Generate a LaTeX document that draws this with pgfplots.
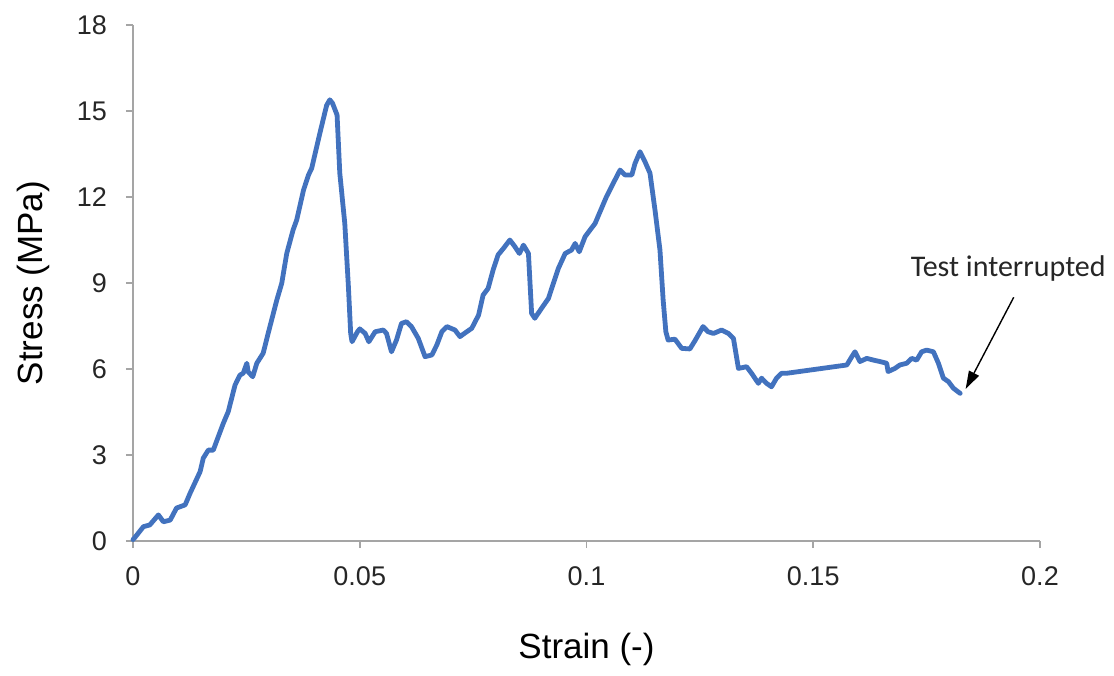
\documentclass[border=0pt]{standalone}
\usepackage{pgfplots}
\pgfplotsset{compat=1.18}
\usepackage{fontspec}
\setmainfont{Liberation Sans}
\newfontfamily\calibri{Carlito}
\usetikzlibrary{arrows.meta}
\definecolor{curve}{RGB}{66,114,190}
\definecolor{axgray}{RGB}{165,165,165}
\pgfplotstableread{
x y
0.0000 0.05
0.0004 0.12
0.0023 0.50
0.0037 0.56
0.0056 0.91
0.0067 0.67
0.0082 0.73
0.0096 1.15
0.0115 1.26
0.0126 1.67
0.0148 2.42
0.0155 2.89
0.0166 3.17
0.0177 3.17
0.0199 4.10
0.0210 4.51
0.0225 5.44
0.0236 5.79
0.0243 5.85
0.0251 6.20
0.0254 5.90
0.0264 5.73
0.0273 6.20
0.0287 6.55
0.0298 7.24
0.0317 8.40
0.0328 8.99
0.0339 10.03
0.0353 10.85
0.0361 11.20
0.0376 12.24
0.0387 12.77
0.0394 13.00
0.0412 14.22
0.0427 15.20
0.0434 15.39
0.0440 15.27
0.0450 14.86
0.0456 12.83
0.0467 11.08
0.0475 8.87
0.0480 7.24
0.0483 6.95
0.0495 7.30
0.0500 7.40
0.0512 7.24
0.0520 6.95
0.0534 7.30
0.0552 7.36
0.0559 7.24
0.0570 6.60
0.0581 7.01
0.0592 7.59
0.0603 7.65
0.0614 7.48
0.0629 7.07
0.0644 6.43
0.0659 6.49
0.0670 6.84
0.0681 7.30
0.0692 7.48
0.0710 7.36
0.0721 7.13
0.0736 7.30
0.0747 7.42
0.0762 7.88
0.0772 8.58
0.0783 8.81
0.0794 9.45
0.0805 9.98
0.0817 10.21
0.0831 10.50
0.0842 10.27
0.0852 10.03
0.0861 10.32
0.0872 10.03
0.0879 7.94
0.0886 7.77
0.0901 8.12
0.0916 8.46
0.0927 8.99
0.0938 9.51
0.0953 10.03
0.0967 10.15
0.0975 10.38
0.0984 10.09
0.0997 10.62
0.1008 10.85
0.1019 11.08
0.1030 11.49
0.1044 12.01
0.1059 12.48
0.1074 12.94
0.1085 12.77
0.1100 12.77
0.1107 13.17
0.1118 13.58
0.1129 13.23
0.1140 12.83
0.1151 11.55
0.1162 10.15
0.1169 8.41
0.1175 7.30
0.1180 7.01
0.1195 7.04
0.1210 6.72
0.1228 6.70
0.1240 7.01
0.1257 7.48
0.1268 7.30
0.1280 7.24
0.1298 7.36
0.1313 7.24
0.1324 7.07
0.1335 6.02
0.1353 6.08
0.1364 5.85
0.1379 5.50
0.1386 5.68
0.1397 5.50
0.1408 5.38
0.1419 5.68
0.1430 5.85
0.1441 5.85
0.1574 6.14
0.1585 6.43
0.1592 6.60
0.1603 6.26
0.1618 6.37
0.1633 6.31
0.1647 6.26
0.1662 6.20
0.1665 5.91
0.1680 6.02
0.1691 6.14
0.1706 6.20
0.1717 6.37
0.1728 6.31
0.1739 6.60
0.1750 6.66
0.1765 6.60
0.1776 6.20
0.1787 5.68
0.1798 5.56
0.1809 5.33
0.1824 5.15
}\stressdata
\begin{document}
\begin{tikzpicture}
\begin{axis}[
  at={(0pt,0pt)}, anchor=south west,
  scale only axis,
  width=453.5pt, height=258pt,
  xmin=0, xmax=0.2, ymin=0, ymax=18,
  axis lines=left,
  axis line style={-, draw=axgray, line width=0.8pt},
  xtick={0,0.05,0.1,0.15,0.2},
  xticklabels={0,0.05,0.1,0.15,0.2},
  ytick={0,3,6,9,12,15,18},
  yticklabels={0,3,6,9,12,15,18},
  tick align=outside,
  major tick length=3.5pt,
  tick style={draw=axgray, line width=0.8pt},
  xticklabel style={font=\fontsize{13.5}{14}\selectfont, text=black!85, yshift=-6pt},
  yticklabel style={font=\fontsize{13.5}{14}\selectfont, text=black!85, xshift=-6pt},
  xlabel={Strain (-)},
  ylabel={Stress (MPa)},
  xlabel style={font=\fontsize{17.5}{18}\selectfont, at={(axis description cs:0.5,-0.211)}, anchor=center},
  ylabel style={font=\fontsize{17.5}{18}\selectfont, at={(axis description cs:-0.110,0.5)}, anchor=center, rotate=0},
  clip=false,
]
\addplot[color=curve, line width=2.4pt, line join=round, line cap=round] table[x=x,y=y] {\stressdata};
\node[font=\calibri\fontsize{15}{16}\selectfont, text=black!85] at (axis cs:0.193,9.52) {Test interrupted};
\draw[black, line width=0.7pt, -{Triangle[length=9pt,width=5.5pt]}] (axis cs:0.1942,8.50) -- (axis cs:0.1836,5.30);
\end{axis}
\pgfresetboundingbox
\path[use as bounding box] (-66.5pt,-67pt) rectangle (490.5pt,270.5pt);
\end{tikzpicture}
\end{document}
